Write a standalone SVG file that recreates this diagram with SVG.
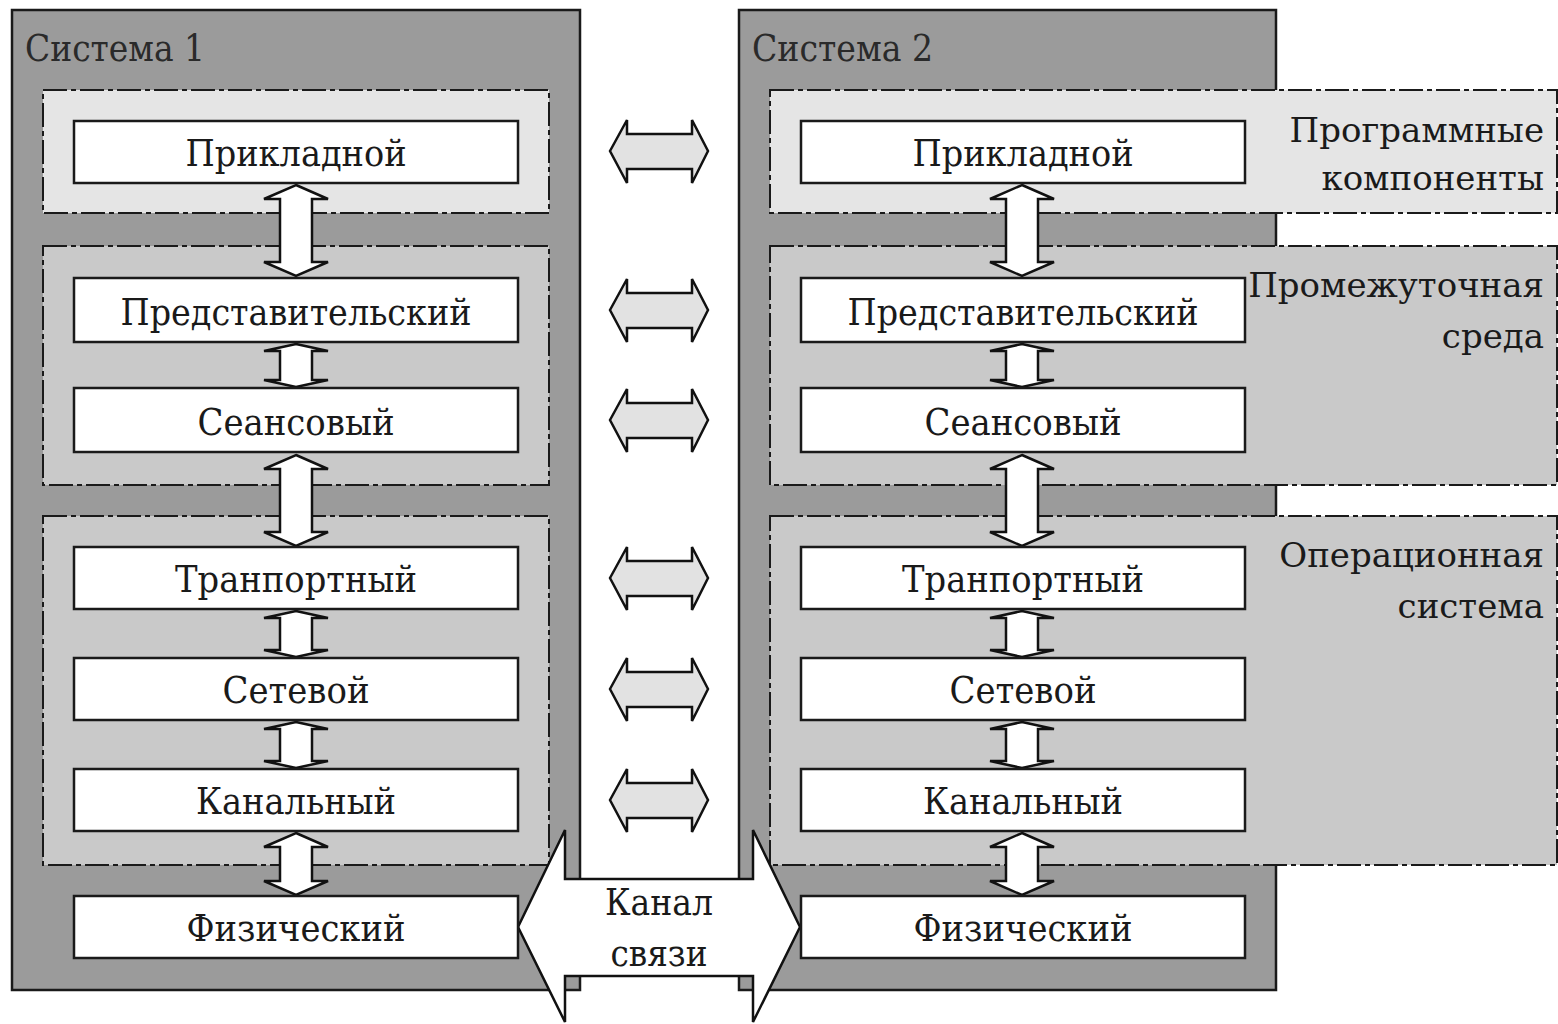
<svg xmlns="http://www.w3.org/2000/svg" width="1558" height="1024" viewBox="0 0 1558 1024">
  <defs>
    <style>
      .sys { fill: #9b9b9b; stroke: #1a1a1a; stroke-width: 2.5; }
      .band-light { fill: #e5e5e5; stroke: #1a1a1a; stroke-width: 2; stroke-dasharray: 24 4 5 4; }
      .band { fill: #c9c9c9; stroke: #1a1a1a; stroke-width: 2; stroke-dasharray: 24 4 5 4; }
      .layer { fill: #ffffff; stroke: #1a1a1a; stroke-width: 2.5; }
      text { font-family: 'DejaVu Serif', 'Liberation Serif', serif; fill: #1a1a1a; font-size: 37px; }
      .lbl { text-anchor: middle; }
      .side { text-anchor: end; font-size: 34px; }
      .title { fill: #2a2a2a; }
      .varrow { fill: #ffffff; stroke: #111; stroke-width: 2.5; stroke-linejoin: miter; }
      .harrow { fill: #e2e2e2; stroke: #111; stroke-width: 2.5; stroke-linejoin: miter; }
    </style>
  </defs>

  <rect width="1558" height="1024" fill="#ffffff"/>

  <!-- System 1 -->
  <g id="system1">
    <rect class="sys" x="12" y="10" width="568" height="980"/>
    <text class="title" x="25" y="61" textLength="180" lengthAdjust="spacingAndGlyphs">Система 1</text>
  </g>

  <!-- System 2 -->
  <g id="system2">
    <rect class="sys" x="739" y="10" width="537" height="980"/>
    <text class="title" x="752" y="61" textLength="181" lengthAdjust="spacingAndGlyphs">Система 2</text>
  </g>

  <!-- Component groupings (dash-dot bands) -->
  <g id="bands">
    <rect class="band-light" x="43" y="90" width="506" height="123"/>
    <rect class="band" x="43" y="246" width="506" height="239"/>
    <rect class="band" x="43" y="516" width="506" height="349"/>
    <rect class="band-light" x="770" y="90" width="787" height="123"/>
    <rect class="band" x="770" y="246" width="787" height="239"/>
    <rect class="band" x="770" y="516" width="787" height="349"/>
  </g>

  <g id="band-labels">
    <text class="side" x="1544" y="142">Программные</text>
    <text class="side" x="1544" y="190">компоненты</text>
    <text class="side" x="1544" y="297">Промежуточная</text>
    <text class="side" x="1544" y="348">среда</text>
    <text class="side" x="1544" y="567">Операционная</text>
    <text class="side" x="1544" y="618">система</text>
  </g>

  <!-- Connectors -->
  <g id="connectors">
    <!-- vertical links, system 1 -->
    <polygon class="varrow" points="296,185 328,199 312,199 312,262 328,262 296,276 264,262 280,262 280,199 264,199"/>
    <polygon class="varrow" points="296,344 328,351 312,351 312,380 328,380 296,387 264,380 280,380 280,351 264,351"/>
    <polygon class="varrow" points="296,455 328,469 312,469 312,532 328,532 296,546 264,532 280,532 280,469 264,469"/>
    <polygon class="varrow" points="296,611 328,618 312,618 312,650 328,650 296,657 264,650 280,650 280,618 264,618"/>
    <polygon class="varrow" points="296,722 328,729 312,729 312,761 328,761 296,768 264,761 280,761 280,729 264,729"/>
    <polygon class="varrow" points="296,833 328,847 312,847 312,881 328,881 296,895 264,881 280,881 280,847 264,847"/>

    <!-- vertical links, system 2 -->
    <polygon class="varrow" points="1022,185 1054,199 1038,199 1038,262 1054,262 1022,276 990,262 1006,262 1006,199 990,199"/>
    <polygon class="varrow" points="1022,344 1054,351 1038,351 1038,380 1054,380 1022,387 990,380 1006,380 1006,351 990,351"/>
    <polygon class="varrow" points="1022,455 1054,469 1038,469 1038,532 1054,532 1022,546 990,532 1006,532 1006,469 990,469"/>
    <polygon class="varrow" points="1022,611 1054,618 1038,618 1038,650 1054,650 1022,657 990,650 1006,650 1006,618 990,618"/>
    <polygon class="varrow" points="1022,722 1054,729 1038,729 1038,761 1054,761 1022,768 990,761 1006,761 1006,729 990,729"/>
    <polygon class="varrow" points="1022,833 1054,847 1038,847 1038,881 1054,881 1022,895 990,881 1006,881 1006,847 990,847"/>

    <!-- peer-to-peer links -->
    <polygon class="harrow" points="610,151 627,120 627,134 692,134 692,120 708,151 692,183 692,169 627,169 627,183"/>
    <polygon class="harrow" points="610,310 627,279 627,293 692,293 692,279 708,310 692,342 692,328 627,328 627,342"/>
    <polygon class="harrow" points="610,420 627,389 627,403 692,403 692,389 708,420 692,452 692,438 627,438 627,452"/>
    <polygon class="harrow" points="610,578 627,547 627,561 692,561 692,547 708,578 692,610 692,596 627,596 627,610"/>
    <polygon class="harrow" points="610,689 627,658 627,672 692,672 692,658 708,689 692,721 692,707 627,707 627,721"/>
    <polygon class="harrow" points="610,800 627,769 627,783 692,783 692,769 708,800 692,832 692,818 627,818 627,832"/>

    <!-- physical channel -->
    <polygon class="varrow" points="518,927 565,830 565,879 753,879 753,830 800,927 753,1022 753,976 565,976 565,1022"/>
    <text class="lbl" x="659" y="915" textLength="108" lengthAdjust="spacingAndGlyphs">Канал</text>
    <text class="lbl" x="659" y="966" textLength="97" lengthAdjust="spacingAndGlyphs">связи</text>
  </g>

  <!-- Layers, system 1 -->
  <g id="s1-app"><rect class="layer" x="74" y="121" width="444" height="62"/><text class="lbl" x="296" y="166" textLength="221" lengthAdjust="spacingAndGlyphs">Прикладной</text></g>
  <g id="s1-pres"><rect class="layer" x="74" y="278" width="444" height="64"/><text class="lbl" x="296" y="325" textLength="351" lengthAdjust="spacingAndGlyphs">Представительский</text></g>
  <g id="s1-sess"><rect class="layer" x="74" y="388" width="444" height="64"/><text class="lbl" x="296" y="435" textLength="197" lengthAdjust="spacingAndGlyphs">Сеансовый</text></g>
  <g id="s1-trans"><rect class="layer" x="74" y="547" width="444" height="62"/><text class="lbl" x="296" y="592" textLength="242" lengthAdjust="spacingAndGlyphs">Транпортный</text></g>
  <g id="s1-net"><rect class="layer" x="74" y="658" width="444" height="62"/><text class="lbl" x="296" y="703" textLength="147" lengthAdjust="spacingAndGlyphs">Сетевой</text></g>
  <g id="s1-link"><rect class="layer" x="74" y="769" width="444" height="62"/><text class="lbl" x="296" y="814" textLength="200" lengthAdjust="spacingAndGlyphs">Канальный</text></g>
  <g id="s1-phys"><rect class="layer" x="74" y="896" width="444" height="62"/><text class="lbl" x="296" y="941" textLength="219" lengthAdjust="spacingAndGlyphs">Физический</text></g>

  <!-- Layers, system 2 -->
  <g id="s2-app"><rect class="layer" x="801" y="121" width="444" height="62"/><text class="lbl" x="1023" y="166" textLength="221" lengthAdjust="spacingAndGlyphs">Прикладной</text></g>
  <g id="s2-pres"><rect class="layer" x="801" y="278" width="444" height="64"/><text class="lbl" x="1023" y="325" textLength="351" lengthAdjust="spacingAndGlyphs">Представительский</text></g>
  <g id="s2-sess"><rect class="layer" x="801" y="388" width="444" height="64"/><text class="lbl" x="1023" y="435" textLength="197" lengthAdjust="spacingAndGlyphs">Сеансовый</text></g>
  <g id="s2-trans"><rect class="layer" x="801" y="547" width="444" height="62"/><text class="lbl" x="1023" y="592" textLength="242" lengthAdjust="spacingAndGlyphs">Транпортный</text></g>
  <g id="s2-net"><rect class="layer" x="801" y="658" width="444" height="62"/><text class="lbl" x="1023" y="703" textLength="147" lengthAdjust="spacingAndGlyphs">Сетевой</text></g>
  <g id="s2-link"><rect class="layer" x="801" y="769" width="444" height="62"/><text class="lbl" x="1023" y="814" textLength="200" lengthAdjust="spacingAndGlyphs">Канальный</text></g>
  <g id="s2-phys"><rect class="layer" x="801" y="896" width="444" height="62"/><text class="lbl" x="1023" y="941" textLength="219" lengthAdjust="spacingAndGlyphs">Физический</text></g>
</svg>
